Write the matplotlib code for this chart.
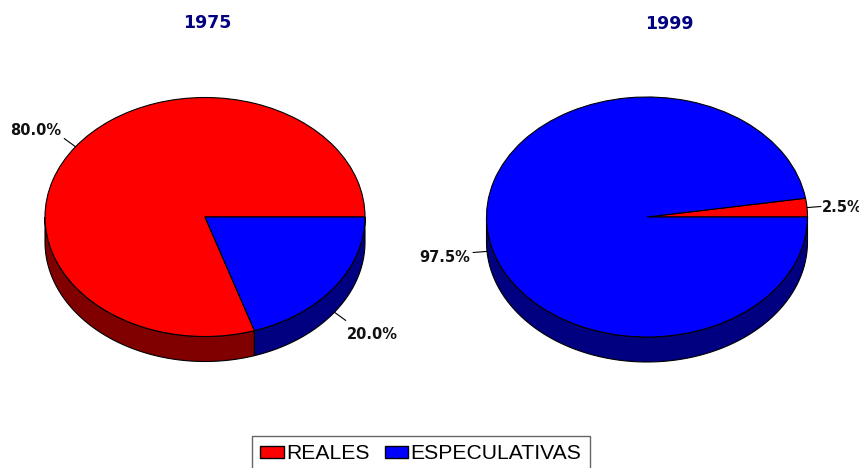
import numpy as np
import matplotlib.pyplot as plt
from matplotlib.patches import Patch

# participacion de transacciones reales vs especulativas
years = ['1975', '1999']
categories = ['REALES', 'ESPECULATIVAS']
reales = [80.0, 2.5]
especulativas = [20.0, 97.5]

top_colors = ['#ff0000', '#0000ff']
side_colors = ['#800000', '#000080']

W, H = 859, 468
fig = plt.figure(figsize=(W / 100, H / 100), dpi=100)

# pie layout in pixels: center x, center y, x radius, y radius, depth
layout = [(205, 217, 160, 119.5, 25), (647, 217, 160.5, 120, 25)]
title_pos = [(207, 23), (669, 24)]
XL, YT, YB = 1.3, 1.3, 1.5


def draw_pie(k, values):
    cx, cy, rx, ry, depth = layout[k]
    left = (cx - XL * rx) / W
    bottom = 1 - (cy + YB * ry) / H
    ax = fig.add_axes([left, bottom, 2 * XL * rx / W, (YT + YB) * ry / H])
    d = depth / ry
    edges = np.concatenate([[0], np.cumsum(values)]) / sum(values) * 360
    # visible side wall (front half of the pie)
    for i in range(len(values)):
        a, b = max(edges[i], 180), min(edges[i + 1], 360)
        if b <= a:
            continue
        t = np.radians(np.linspace(a, b, 80))
        xs = np.concatenate([np.cos(t), np.cos(t[::-1])])
        ys = np.concatenate([np.sin(t), np.sin(t[::-1]) - d])
        ax.fill(xs, ys, facecolor=side_colors[i], edgecolor='black', lw=0.8)
    ax.pie(values, colors=top_colors, startangle=0, counterclock=True,
           wedgeprops=dict(edgecolor='black', linewidth=0.8))
    ax.set_aspect('auto')
    ax.set_xlim(-XL, XL)
    ax.set_ylim(-YB, YT)
    ax.axis('off')
    # percentage labels with leader lines
    for i, v in enumerate(values):
        m = np.radians((edges[i] + edges[i + 1]) / 2)
        c, s = np.cos(m), np.sin(m)
        ay = s - d if s < 0 else s
        lx, ly = 14 * c, 14 * s  # leader, pixels (up positive)
        ax.annotate('', xy=(c, ay), xytext=(lx * 0.72, ly * 0.72),
                    textcoords='offset points',
                    arrowprops=dict(arrowstyle='-', color='black', lw=0.8,
                                    shrinkA=0, shrinkB=0))
        tx = lx + (1 if c > 0 else -3)
        ty = ly + 19 * s - 3
        ax.annotate('%.1f%%' % v, xy=(c, ay), xytext=(tx * 0.72, ty * 0.72),
                    textcoords='offset points', ha='left' if c > 0 else 'right',
                    va='center', fontsize=10.5, fontweight='bold', color='#111111')
    x, y = title_pos[k]
    fig.text(x / W, 1 - y / H, years[k], ha='center', va='center',
             fontsize=12.5, fontweight='bold', color='#000080')


for k in range(len(years)):
    draw_pie(k, [reales[k], especulativas[k]])

handles = [Patch(facecolor=top_colors[i], edgecolor='black', label=categories[i])
           for i in range(len(categories))]
leg = fig.legend(handles=handles, loc='upper left', ncol=2,
                 bbox_to_anchor=(252 / W, 1 - 436 / H), borderaxespad=0,
                 prop={'family': 'Liberation Sans', 'size': 15.2},
                 frameon=True, fancybox=False,
                 handlelength=1.1, handleheight=0.5, handletextpad=0.1,
                 columnspacing=0.75, borderpad=0.4)
leg.get_frame().set_edgecolor('#404040')
leg.get_frame().set_linewidth(1.0)

fig.savefig('out.png', dpi=100)
